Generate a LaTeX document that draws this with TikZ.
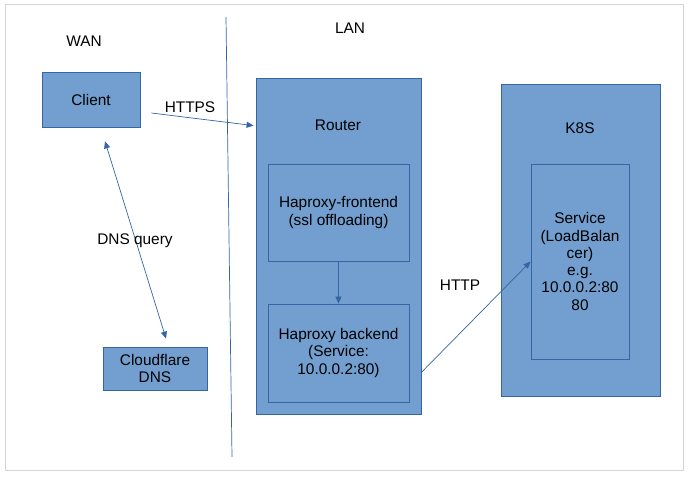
\documentclass[tikz,border=0pt]{standalone}
\usepackage{fontspec}
\setmainfont{Liberation Sans}
\usetikzlibrary{arrows.meta,calc,positioning}
\definecolor{NetFill}{HTML}{729FCF}
\definecolor{NetLine}{HTML}{3465A4}
\definecolor{FrameGray}{HTML}{D4D4D4}
\tikzset{
  netbox/.style={draw=NetLine, fill=NetFill, line width=0.8pt, inner sep=0pt, align=center},
  netlabel/.style={inner sep=0pt, align=center},
  netarrow/.style={draw=NetLine, line width=0.7pt, -{Triangle[length=7pt,width=6pt]}},
  netboth/.style={draw=NetLine, line width=0.7pt, {Triangle[length=7pt,width=6pt]}-{Triangle[length=7pt,width=6pt]}},
}

\begin{document}
\begin{tikzpicture}[x=1pt,y=-1pt, every node/.style={font=\fontsize{15.4}{17.3}\selectfont}]
    \useasboundingbox (0,0) rectangle (690,477);
    \draw[FrameGray, line width=1pt] (5,4.5) rectangle (683.5,470);

    % zones
    \node[netlabel] (wan) at (84,41) {WAN};
    \node[netlabel] (lan) at (350,28) {LAN};
    \coordinate (splitTop) at (226,17);
    \coordinate (splitBot) at (232,457);
    \draw[NetLine, line width=0.7pt] (splitTop) -- (splitBot);

    % WAN side
    \node[netbox, minimum width=98pt, minimum height=55pt] (client) at (91,99.5) {Client};
    \node[netbox, minimum width=104pt, minimum height=43pt] (cloudflare) at (155,368.5) {Cloudflare\\DNS};

    % router
    \node[netbox, minimum width=165pt, minimum height=336pt] (router) at (338.5,246) {};
    \node[netlabel] (routerlabel) at (338,125) {Router};
    \node[netbox, minimum width=141pt, minimum height=97pt] (frontend) at (338.5,212.5) {Haproxy-frontend\\(ssl offloading)};
    \node[netbox, minimum width=141pt, minimum height=98pt] (backend) at (338.5,353) {Haproxy backend\\(Service:\\10.0.0.2:80)};

    % cluster
    \node[netbox, minimum width=159pt, minimum height=312pt] (k8s) at (580.5,240) {};
    \node[netlabel] (k8slabel) at (580,128) {K8S};
    \node[netbox, minimum width=98pt, minimum height=195pt] (service) at (580,261.5) {Service\\(LoadBalan\\cer)\\e.g.\\10.0.0.2:80\\80};

    % flows
    \draw[netarrow] ($(client.east)+(11,13.5)$) -- ($(router.north west)+(-2,48)$);
    \node[netlabel] (https) at (190,107) {HTTPS};
    \draw[netboth, shorten <=14.6pt, shorten >=8.4pt] ($(client.south)+(9.7,0)$) -- ($(cloudflare.north)+(13.5,0)$);
    \node[netlabel] (dnsq) at (135,241) {DNS query};
    \draw[netarrow] (frontend.south) -- (backend.north);
    \draw[netarrow] ($(router.south east)+(0,-42)$) -- (service.west);
    \node[netlabel] (http) at (460,285) {HTTP};
  \end{tikzpicture}
\end{document}
